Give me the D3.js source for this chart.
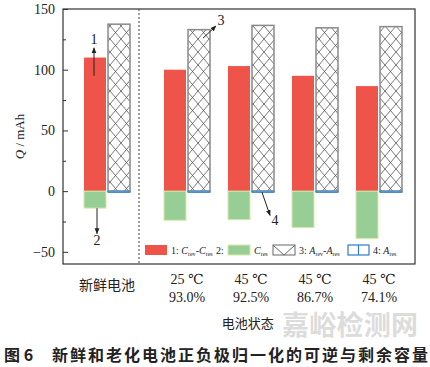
<!DOCTYPE html>
<html>
<head>
<meta charset="utf-8">
<script src="https://cdn.jsdelivr.net/npm/d3@7"></script>
<style>
  body { margin: 0; background: #fff; }
  svg { display: block; }
  text { font-family: "Liberation Serif", "DejaVu Serif", serif; fill: #222; }
  .cjk { font-family: "Noto Sans CJK SC", sans-serif; }
</style>
</head>
<body>
<div id="chart"></div>
<script>
// battery states
const groupPos = [0, 1.25, 2.25, 3.25, 4.25];
const groupName = ["新鲜电池", "", "", "", ""];
const groupTemp = ["", "25 ℃", "45 ℃", "45 ℃", "45 ℃"];
const groupSoh = ["", "93.0%", "92.5%", "86.7%", "74.1%"];

// capacities, mAh
const cRevMinusRes = [110, 100, 103, 95, 86.5];   // 1: C_rev - C_res
const cRes = [-14, -24, -23.5, -30, -39];          // 2: C_res
const aRevMinusRes = [137.5, 133, 136.5, 134.5, 135.5]; // 3: A_rev - A_res
const aRes = [-1, -1, -1, -1, -1];                // 4: A_res

const yMajor = [-50, 0, 50, 100, 150];
const yMinor = [-25, 25, 75, 125];

const width = 430, height = 367;
const margin = {top: 9, right: 15, bottom: 103, left: 63};

const svg = d3.select("#chart").append("svg")
    .attr("width", width)
    .attr("height", height);

const x = d3.scaleLinear()
    .domain([-0.6875, 4.8125])
    .range([margin.left, width - margin.right]);

const y = d3.scaleLinear()
    .domain([-60, 150])
    .range([height - margin.bottom, margin.top]);

const barW = 22, off = 12;

const defs = svg.append("defs");
const pat = defs.append("pattern")
    .attr("id", "hatch")
    .attr("patternUnits", "userSpaceOnUse")
    .attr("width", 11)
    .attr("height", 13);
pat.append("rect").attr("width", 11).attr("height", 13).attr("fill", "#fff");
pat.append("path")
    .attr("d", "M0,0L11,13M11,0L0,13")
    .attr("stroke", "#555")
    .attr("stroke-width", 0.8)
    .attr("fill", "none");

// separator between fresh and aged
svg.append("line")
    .attr("x1", x(0.5)).attr("x2", x(0.5))
    .attr("y1", y.range()[1]).attr("y2", y.range()[0])
    .attr("stroke", "#444")
    .attr("stroke-dasharray", "2,2");

const idx = d3.range(groupPos.length);

// 1: red
svg.append("g").selectAll("rect").data(idx).join("rect")
    .attr("x", i => x(groupPos[i]) - off - barW / 2)
    .attr("y", i => y(cRevMinusRes[i]))
    .attr("width", barW)
    .attr("height", i => y(0) - y(cRevMinusRes[i]))
    .attr("fill", "#ee5449");

// 2: green
svg.append("g").selectAll("rect").data(idx).join("rect")
    .attr("x", i => x(groupPos[i]) - off - barW / 2)
    .attr("y", y(0))
    .attr("width", barW)
    .attr("height", i => y(cRes[i]) - y(0))
    .attr("fill", "#97ce95")
    .attr("stroke", "#d9eaa8")
    .attr("stroke-width", 1);

// 3: hatched
svg.append("g").selectAll("rect").data(idx).join("rect")
    .attr("x", i => x(groupPos[i]) + off - barW / 2)
    .attr("y", i => y(aRevMinusRes[i]))
    .attr("width", barW)
    .attr("height", i => y(0) - y(aRevMinusRes[i]))
    .attr("fill", "url(#hatch)")
    .attr("stroke", "#8a8a8a")
    .attr("stroke-width", 1.5);

// 4: blue
svg.append("g").selectAll("rect").data(idx).join("rect")
    .attr("x", i => x(groupPos[i]) + off - barW / 2)
    .attr("y", y(0))
    .attr("width", barW)
    .attr("height", i => y(aRes[i]) - y(0))
    .attr("fill", "#fff")
    .attr("stroke", "#2f7bc4")
    .attr("stroke-width", 1);

// frame
svg.append("rect")
    .attr("x", margin.left).attr("y", margin.top)
    .attr("width", width - margin.left - margin.right)
    .attr("height", height - margin.top - margin.bottom)
    .attr("fill", "none")
    .attr("stroke", "#333")
    .attr("stroke-width", 1.2);

// y axis
svg.append("g")
    .attr("transform", `translate(${margin.left},0)`)
    .call(d3.axisLeft(y).tickValues(yMajor).tickSize(-5).tickPadding(8)
        .tickFormat(d => d < 0 ? "\u2212" + Math.abs(d) : d))
    .call(g => g.select(".domain").remove())
    .call(g => g.selectAll(".tick line").attr("stroke", "#333"))
    .call(g => g.selectAll(".tick text")
        .attr("font-family", "Liberation Serif")
        .attr("font-size", 14)
        .attr("fill", "#222"));

svg.append("g")
    .attr("transform", `translate(${margin.left},0)`)
    .call(d3.axisLeft(y).tickValues(yMinor).tickSize(-3).tickFormat(""))
    .call(g => g.select(".domain").remove())
    .call(g => g.selectAll(".tick line").attr("stroke", "#333"));

// y title
svg.append("text")
    .attr("transform", `translate(24,${(y.range()[0] + y.range()[1]) / 2}) rotate(-90)`)
    .attr("text-anchor", "middle")
    .attr("font-size", 13)
    .html('<tspan font-style="italic">Q</tspan> / mAh');

// x labels
const xl = svg.append("g");
idx.forEach(i => {
  if (groupName[i]) {
    xl.append("text").attr("class", "cjk")
      .attr("x", x(groupPos[i])).attr("y", 290)
      .attr("text-anchor", "middle").attr("font-size", 14)
      .attr("fill", "#333")
      .text(groupName[i]);
  }
  if (groupTemp[i]) {
    xl.append("text")
      .attr("x", x(groupPos[i])).attr("y", 284)
      .attr("text-anchor", "middle").attr("font-size", 14)
      .text(groupTemp[i]);
    xl.append("text")
      .attr("x", x(groupPos[i])).attr("y", 302)
      .attr("text-anchor", "middle").attr("font-size", 14)
      .text(groupSoh[i]);
  }
});

svg.append("text").attr("class", "cjk")
    .attr("x", x(2.2)).attr("y", 328)
    .attr("text-anchor", "middle").attr("font-size", 13)
    .attr("fill", "#333")
    .text("电池状态");

// watermark
svg.append("text").attr("class", "cjk")
    .attr("x", 282).attr("y", 335)
    .attr("font-size", 27)
    .attr("textLength", 136)
    .attr("font-weight", "bold")
    .style("fill", "#dcdcdc")
    .text("嘉峪检测网");

// caption
svg.append("text").attr("class", "cjk")
    .attr("x", 4).attr("y", 361)
    .attr("font-size", 16).attr("font-weight", "bold")
    .text("图 6");
svg.append("text").attr("class", "cjk")
    .attr("x", 52).attr("y", 361)
    .attr("font-size", 16).attr("font-weight", "bold")
    .attr("textLength", 376)
    .text("新鲜和老化电池正负极归一化的可逆与剩余容量");

// annotation arrows
defs.append("marker")
    .attr("id", "arr")
    .attr("viewBox", "0 0 10 10")
    .attr("refX", 9).attr("refY", 5)
    .attr("markerWidth", 6).attr("markerHeight", 6)
    .attr("orient", "auto")
  .append("path")
    .attr("d", "M0,1L10,5L0,9Z")
    .attr("fill", "#222");

const notes = [
  {g: 0, dx: -13, from: 95, to: 118, label: "1", lx: -13, ly: 124},
  {g: 0, dx: -10, from: -14, to: -35, label: "2", lx: -10, ly: -42},
  {g: 1, dx: 16, from: 126, to: 136, dx2: 29, label: "3", lx: 34, ly: 139.5},
  {g: 2, dx: 11, from: -1, to: -20, dx2: 19, label: "4", lx: 24, ly: -25}
];
notes.forEach(n => {
  svg.append("line")
    .attr("x1", x(groupPos[n.g]) + n.dx).attr("y1", y(n.from))
    .attr("x2", x(groupPos[n.g]) + (n.dx2 !== undefined ? n.dx2 : n.dx)).attr("y2", y(n.to))
    .attr("stroke", "#222").attr("stroke-width", 1)
    .attr("marker-end", "url(#arr)");
  svg.append("text")
    .attr("x", x(groupPos[n.g]) + n.lx).attr("y", y(n.ly))
    .attr("text-anchor", "middle").attr("dominant-baseline", "middle")
    .attr("font-size", 14)
    .text(n.label);
});

// legend
const lg = svg.append("g").attr("transform", "translate(0,245)");
lg.append("rect").attr("x", 145).attr("y", 0).attr("width", 22).attr("height", 10).attr("fill", "#ee5449");
lg.append("text").attr("x", 171).attr("y", 9).attr("font-size", 10)
  .html('1: <tspan font-style="italic">C</tspan><tspan font-size="6" dy="2">rev</tspan><tspan dy="-2">-</tspan><tspan font-style="italic">C</tspan><tspan font-size="6" dy="2">res</tspan>');
lg.append("text").attr("x", 216).attr("y", 9).attr("font-size", 10).text("2:");
lg.append("rect").attr("x", 228).attr("y", 0).attr("width", 22).attr("height", 10)
  .attr("fill", "#97ce95").attr("stroke", "#d9eaa8");
lg.append("text").attr("x", 254).attr("y", 9).attr("font-size", 10)
  .html('<tspan font-style="italic">C</tspan><tspan font-size="6" dy="2">res</tspan>');
lg.append("rect").attr("x", 273).attr("y", 0).attr("width", 22).attr("height", 10)
  .attr("fill", "#fff").attr("stroke", "#666");
lg.append("path").attr("d", "M273,0L284,10L295,0").attr("fill", "none").attr("stroke", "#666");
lg.append("text").attr("x", 299).attr("y", 9).attr("font-size", 10)
  .html('3: <tspan font-style="italic">A</tspan><tspan font-size="6" dy="2">rev</tspan><tspan dy="-2">-</tspan><tspan font-style="italic">A</tspan><tspan font-size="6" dy="2">res</tspan>');
lg.append("rect").attr("x", 348).attr("y", 0).attr("width", 21).attr("height", 10)
  .attr("fill", "#fff").attr("stroke", "#2f7bc4").attr("stroke-width", 1.2);
lg.append("line").attr("x1", 358.5).attr("x2", 358.5).attr("y1", 0).attr("y2", 10)
  .attr("stroke", "#2f7bc4").attr("stroke-width", 1.2);
lg.append("text").attr("x", 373).attr("y", 9).attr("font-size", 10)
  .html('4: <tspan font-style="italic">A</tspan><tspan font-size="6" dy="2">res</tspan>');
</script>
</body>
</html>
